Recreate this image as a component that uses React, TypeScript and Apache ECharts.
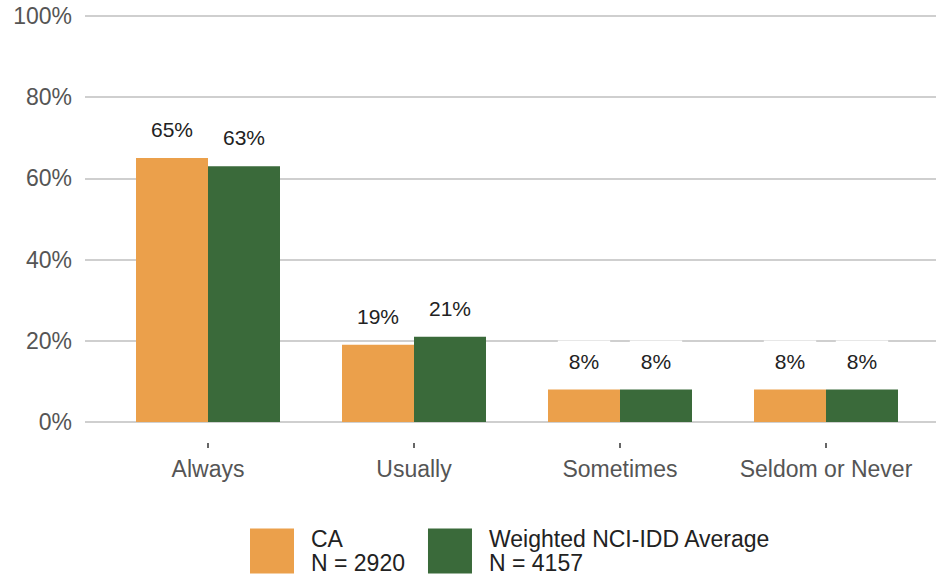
import React, { useEffect, useRef } from "react";
import * as echarts from "echarts";

const categories = ["Always", "Usually", "Sometimes", "Seldom or Never"];
const caValues = [65, 19, 8, 8];
const nciValues = [63, 21, 8, 8];
const seriesNames = ["CA", "Weighted NCI-IDD Average"];
const seriesN = ["N = 2920", "N = 4157"];
const yTicks = [0, 20, 40, 60, 80, 100];

const FONT = "'Liberation Sans', Arial, sans-serif";

export default function App() {
  const ref = useRef<HTMLDivElement>(null);
  useEffect(() => {
    if (!ref.current) return;
    const chart = echarts.init(ref.current, undefined, { renderer: "svg" });
    const label = {
      show: true,
      position: "top",
      distance: 9,
      formatter: "{c}%",
      fontSize: 21,
      fontFamily: FONT,
      color: "#222",
      backgroundColor: "#ffffff",
      padding: [10, 11, 9, 11],
    };
    chart.setOption({
      animation: false,
      textStyle: { fontFamily: FONT },
      grid: [
        { left: 85, right: 0, top: 16, bottom: 157 },
        { left: 105, right: 7, top: 16, bottom: 157 },
      ],
      xAxis: [
        { gridIndex: 0, type: "category", data: [""], show: false },
        {
          gridIndex: 1,
          type: "category",
          data: categories,
          offset: 21,
          axisLine: { show: false, onZero: false },
          axisTick: { show: true, interval: 0, alignWithLabel: true, length: 5, lineStyle: { color: "#333", width: 1.5 } },
          axisLabel: { interval: 0, margin: 14, fontSize: 23, color: "#555", fontFamily: FONT },
        },
      ],
      yAxis: [
        {
          gridIndex: 0,
          type: "value",
          min: yTicks[0],
          max: yTicks[yTicks.length - 1],
          interval: 20,
          axisLine: { show: false },
          axisTick: { show: false },
          axisLabel: { formatter: "{value}%", margin: 13, fontSize: 23, color: "#555", fontFamily: FONT },
          splitLine: { lineStyle: { color: "#cfcfcf", width: 2 } },
        },
        { gridIndex: 1, type: "value", min: 0, max: 100, show: false },
      ],
      legend: {
        left: 250,
        top: 526,
        padding: 0,
        itemWidth: 44,
        itemHeight: 45,
        itemGap: 23,
        icon: "rect",
        formatter: (name: string) => {
          const i = seriesNames.indexOf(name);
          return name + "\n" + seriesN[i];
        },
        textStyle: { fontSize: 23, lineHeight: 24, color: "#222", fontFamily: FONT, padding: [2, 0, 0, 12] },
      },
      series: [
        {
          name: seriesNames[0],
          type: "bar",
          xAxisIndex: 1,
          yAxisIndex: 1,
          data: caValues,
          barWidth: 72,
          barGap: "0%",
          itemStyle: { color: "#EBA04B" },
          label,
        },
        {
          name: seriesNames[1],
          type: "bar",
          xAxisIndex: 1,
          yAxisIndex: 1,
          data: nciValues,
          barWidth: 72,
          barGap: "0%",
          itemStyle: { color: "#3A6A3A" },
          label,
        },
      ],
    });
    return () => chart.dispose();
  }, []);
  return <div ref={ref} style={{ width: 936, height: 579, position: "absolute", left: 0, top: 0 }} />;
}
